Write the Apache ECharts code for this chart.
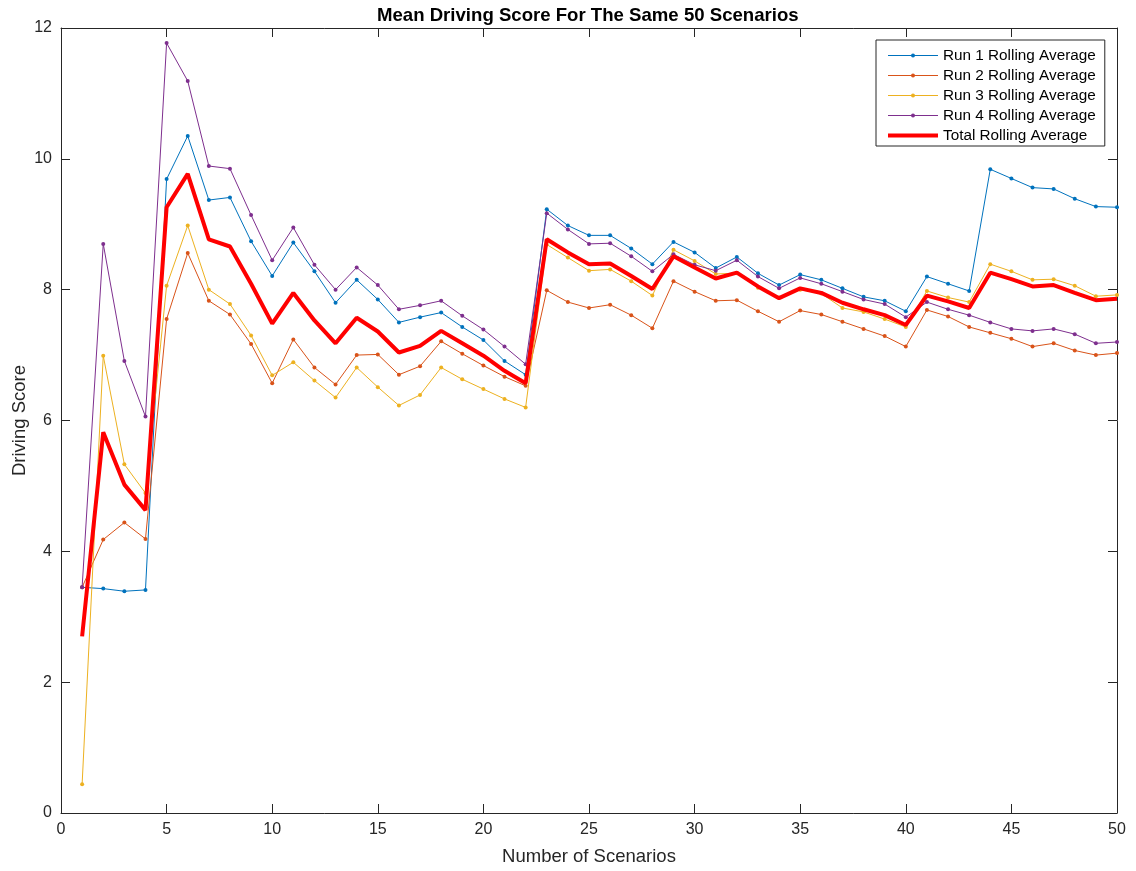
<!DOCTYPE html>
<html>
<head>
<meta charset="utf-8">
<script src="https://cdn.jsdelivr.net/npm/echarts@6/dist/echarts.min.js"></script>
<style>
html,body{margin:0;padding:0;background:#fff;}
#chart{width:1136px;height:871px;}
</style>
</head>
<body>
<div id="chart"></div>
<script>
const scenarios = [1,2,3,4,5,6,7,8,9,10,11,12,13,14,15,16,17,18,19,20,21,22,23,24,25,26,27,28,29,30,31,32,33,34,35,36,37,38,39,40,41,42,43,44,45,46,47,48,49,50];

const run1 = [3.45,3.43,3.39,3.41,9.69,10.35,9.37,9.41,8.74,8.21,8.72,8.28,7.80,8.15,7.85,7.50,7.58,7.65,7.43,7.23,6.91,6.70,9.23,8.98,8.83,8.83,8.63,8.39,8.73,8.57,8.33,8.50,8.25,8.07,8.23,8.15,8.02,7.89,7.83,7.67,8.20,8.09,7.98,9.84,9.70,9.56,9.54,9.39,9.27,9.26];

const run2 = [3.45,4.18,4.44,4.19,7.55,8.56,7.83,7.62,7.17,6.57,7.24,6.81,6.55,7.00,7.01,6.70,6.83,7.21,7.02,6.84,6.67,6.53,7.99,7.81,7.72,7.77,7.61,7.41,8.13,7.97,7.83,7.84,7.67,7.51,7.68,7.62,7.51,7.40,7.29,7.13,7.69,7.59,7.43,7.34,7.25,7.13,7.18,7.07,7.00,7.03];

const run3 = [0.44,6.99,5.33,4.89,8.06,8.98,8.00,7.78,7.30,6.69,6.89,6.61,6.35,6.81,6.51,6.23,6.39,6.81,6.63,6.48,6.33,6.20,8.69,8.49,8.29,8.31,8.13,7.91,8.61,8.44,8.24,8.25,8.03,7.88,8.00,7.94,7.72,7.66,7.55,7.43,7.98,7.88,7.81,8.39,8.28,8.15,8.16,8.06,7.90,7.92];

const run4 = [3.45,8.70,6.91,6.06,11.77,11.19,9.89,9.85,9.14,8.45,8.95,8.38,8.00,8.34,8.07,7.70,7.76,7.83,7.60,7.39,7.13,6.86,9.17,8.92,8.70,8.71,8.51,8.28,8.54,8.38,8.29,8.45,8.20,8.02,8.18,8.09,7.97,7.85,7.78,7.58,7.81,7.70,7.61,7.50,7.40,7.37,7.40,7.32,7.18,7.20];

const total = [2.70,5.82,5.02,4.63,9.26,9.77,8.77,8.66,8.09,7.48,7.95,7.53,7.18,7.57,7.36,7.04,7.14,7.37,7.18,6.99,6.76,6.57,8.77,8.57,8.39,8.40,8.21,8.01,8.51,8.34,8.17,8.26,8.05,7.87,8.02,7.95,7.80,7.70,7.61,7.46,7.91,7.82,7.72,8.26,8.16,8.05,8.07,7.95,7.84,7.86];

const seriesNames = ['Run 1 Rolling Average','Run 2 Rolling Average','Run 3 Rolling Average','Run 4 Rolling Average','Total Rolling Average'];
const seriesColors = ['#0072BD','#D95319','#EDB120','#7E2F8E','#FF0000'];
const xTicks = [0,5,10,15,20,25,30,35,40,45,50];
const yTicks = [0,2,4,6,8,10,12];

const FONT = '"Liberation Sans", Arial, Helvetica, sans-serif';
const TXT = '#262626';

function pairs(vals){ return scenarios.map((s,i)=>[s, vals[i]]); }

const runs = [run1, run2, run3, run4];
const series = runs.map((r,i)=>({
  name: seriesNames[i],
  type: 'line',
  data: pairs(r),
  symbol: 'circle',
  symbolSize: 4,
  showSymbol: true,
  color: seriesColors[i],
  lineStyle: {width: 1, color: seriesColors[i]},
  itemStyle: {color: seriesColors[i]},
  emphasis: {disabled: true},
  animation: false,
  z: 2 + i
}));
series.push({
  name: seriesNames[4],
  type: 'line',
  data: pairs(total),
  symbol: 'none',
  color: seriesColors[4],
  lineStyle: {width: 4, color: seriesColors[4]},
  itemStyle: {color: seriesColors[4]},
  emphasis: {disabled: true},
  animation: false,
  z: 10
});

// legend icons: thin line with a small dot / thick line
const dotLineIcon = 'path://M0,1.5H50V2.5H0Z M23,2A2,2 0 1,1 27,2A2,2 0 1,1 23,2Z';
const thickLineIcon = 'path://M0,0H50V4H0Z';
const legendData = seriesNames.map((n,i)=>({name: n, icon: i < 4 ? dotLineIcon : thickLineIcon}));

const chart = echarts.init(document.getElementById('chart'), null, {renderer: 'canvas'});
const axisLine = {show: true, onZero: false, lineStyle: {color: TXT, width: 1}};
const tick = {show: true, inside: true, length: 9, lineStyle: {color: TXT, width: 1}};
chart.setOption({
  animation: false,
  backgroundColor: '#ffffff',
  textStyle: {fontFamily: FONT, color: TXT},
  title: {
    text: 'Mean Driving Score For The Same 50 Scenarios',
    left: 372, top: 1,
    textStyle: {fontFamily: FONT, fontSize: 18.6, fontWeight: 'bold', color: '#000'}
  },
  legend: {
    orient: 'vertical',
    left: 876, top: 40,
    padding: [8, 9, 3, 12],
    itemGap: 5,
    itemWidth: 50,
    itemHeight: 4,
    borderColor: TXT,
    borderWidth: 1,
    backgroundColor: '#fff',
    itemStyle: {borderWidth: 0},
    data: legendData,
    textStyle: {fontFamily: FONT, fontSize: 15.3, color: '#000'}
  },
  grid: {left: 61, right: 19, top: 28, bottom: 58, containLabel: false, outerBoundsMode: 'none'},
  xAxis: [{
    type: 'value', min: 0, max: 50, interval: 5,
    position: 'bottom',
    name: 'Number of Scenarios', nameLocation: 'middle', nameGap: 34,
    nameTextStyle: {fontFamily: FONT, fontSize: 18.5, color: TXT},
    axisLine: axisLine, axisTick: tick,
    axisLabel: {fontFamily: FONT, fontSize: 16, color: TXT, margin: 9,
      formatter: v => xTicks.includes(v) ? String(v) : ''},
    splitLine: {show: false}
  },{
    type: 'value', min: 0, max: 50, interval: 5,
    position: 'top',
    axisLine: axisLine, axisTick: tick,
    axisLabel: {show: false}, splitLine: {show: false}
  }],
  yAxis: [{
    type: 'value', min: 0, max: 12, interval: 2,
    position: 'left',
    name: 'Driving Score', nameLocation: 'middle', nameGap: 32,
    nameMoveOverlap: false,
    nameTextStyle: {fontFamily: FONT, fontSize: 18.5, color: TXT},
    axisLine: axisLine, axisTick: tick,
    axisLabel: {fontFamily: FONT, fontSize: 16, color: TXT, margin: 9,
      formatter: v => yTicks.includes(v) ? String(v) : ''},
    splitLine: {show: false}
  },{
    type: 'value', min: 0, max: 12, interval: 2,
    position: 'right',
    axisLine: axisLine, axisTick: tick,
    axisLabel: {show: false}, splitLine: {show: false}
  }],
  series: series
});
</script>
</body>
</html>
